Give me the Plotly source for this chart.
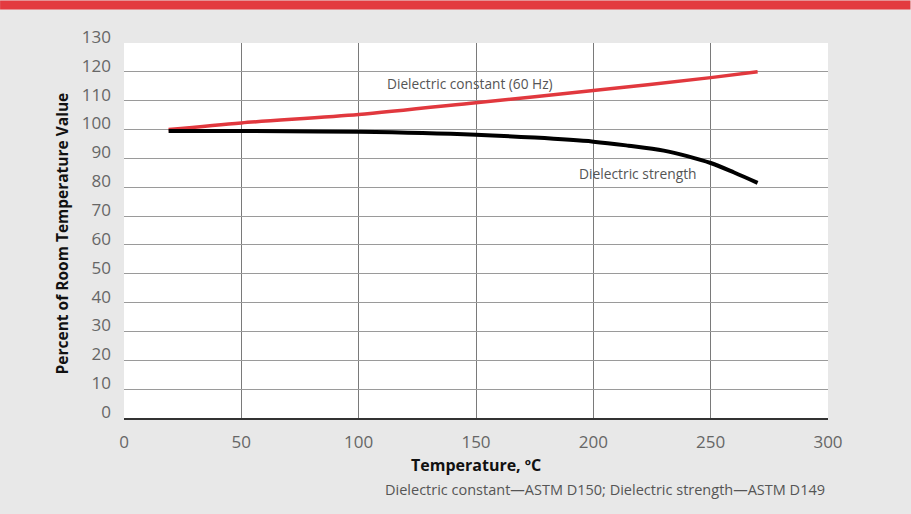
import plotly.graph_objects as go

# Data
temp_const = [19, 50, 100, 150, 200, 250, 270]
dielectric_constant = [100, 102.3, 105.2, 109.3, 113.5, 118.0, 120.0]

temp_strength = [19, 50, 100, 150, 175, 200, 215, 230, 240, 250, 260, 270]
dielectric_strength = [99.5, 99.5, 99.2, 98.2, 97.2, 95.8, 94.4, 92.7, 90.8, 88.4, 85.1, 81.5]

x_ticks = [0, 50, 100, 150, 200, 250, 300]
y_ticks = list(range(0, 131, 10))

W, H = 911, 514
ML, MR, MT, MB = 124, 82.5, 42.6, 96.3
PW = W - ML - MR
PH = H - MT - MB

FONT = "Open Sans"

fig = go.Figure()
fig.add_trace(go.Scatter(
    x=temp_const, y=dielectric_constant, mode="lines",
    line=dict(color="#e1383e", width=3.5, shape="spline", smoothing=0.8),
    hoverinfo="x+y", showlegend=False))
fig.add_trace(go.Scatter(
    x=temp_strength, y=dielectric_strength, mode="lines",
    line=dict(color="#000000", width=4, shape="spline", smoothing=1.0),
    hoverinfo="x+y", showlegend=False))

def px2paper_x(px):
    return (px - ML) / PW

def px2paper_y(py):
    return (H - MB - py) / PH

fig.update_layout(
    width=W, height=H,
    margin=dict(l=ML, r=MR, t=MT, b=MB, pad=0),
    paper_bgcolor="#e8e8e8",
    plot_bgcolor="#ffffff",
    font=dict(family=FONT, color="#666666", size=16),
    xaxis=dict(
        range=[0, 300], tickvals=x_ticks, ticktext=[str(v) for v in x_ticks],
        showgrid=True, gridcolor="#7a7a7a", gridwidth=1,
        zeroline=False, showline=True, linecolor="#333333", linewidth=1.5,
        ticks="", ticklabelstandoff=8,
        tickfont=dict(family=FONT, size=17, color="#666666"),
        fixedrange=True,
    ),
    yaxis=dict(
        range=[0, 130], tickvals=y_ticks, ticktext=[str(v) for v in y_ticks],
        showgrid=True, gridcolor="#9a9a9a", gridwidth=1,
        zeroline=False, showline=False,
        ticks="", ticklabelstandoff=12, ticklabelshift=-6,
        tickfont=dict(family=FONT, size=17, color="#666666"),
        fixedrange=True,
    ),
    shapes=[
        dict(type="rect", xref="paper", yref="paper",
             x0=px2paper_x(0), x1=px2paper_x(W),
             y0=px2paper_y(9), y1=px2paper_y(0),
             fillcolor="#e33b40", line=dict(width=0), layer="above"),
    ],
    annotations=[
        dict(text="Dielectric constant (60 Hz)", x=147.4, y=116, xref="x", yref="y",
             showarrow=False, font=dict(family=FONT, size=13.7, color="#555555")),
        dict(text="Dielectric strength", x=219, y=84.8, xref="x", yref="y",
             showarrow=False, font=dict(family=FONT, size=13.8, color="#555555")),
        dict(text="<b>Temperature, ºC</b>", x=0.5, y=px2paper_y(465),
             xref="paper", yref="paper", yanchor="middle", showarrow=False,
             font=dict(family=FONT, size=16, color="#111111")),
        dict(text="Dielectric constant—ASTM D150; Dielectric strength—ASTM D149",
             x=px2paper_x(827), y=px2paper_y(489), xref="paper", yref="paper",
             xanchor="right", yanchor="middle", showarrow=False,
             font=dict(family=FONT, size=14.5, color="#555555")),
        dict(text="<b>Percent of Room Temperature Value</b>", x=px2paper_x(62),
             y=px2paper_y(233), xref="paper", yref="paper", textangle=-90,
             xanchor="center", yanchor="middle",
             showarrow=False, font=dict(family=FONT, size=15.5, color="#111111")),
    ],
)

fig.write_html("out.html", config={"displayModeBar": False},
               post_script="document.body.style.margin='0';document.body.style.padding='0';")
